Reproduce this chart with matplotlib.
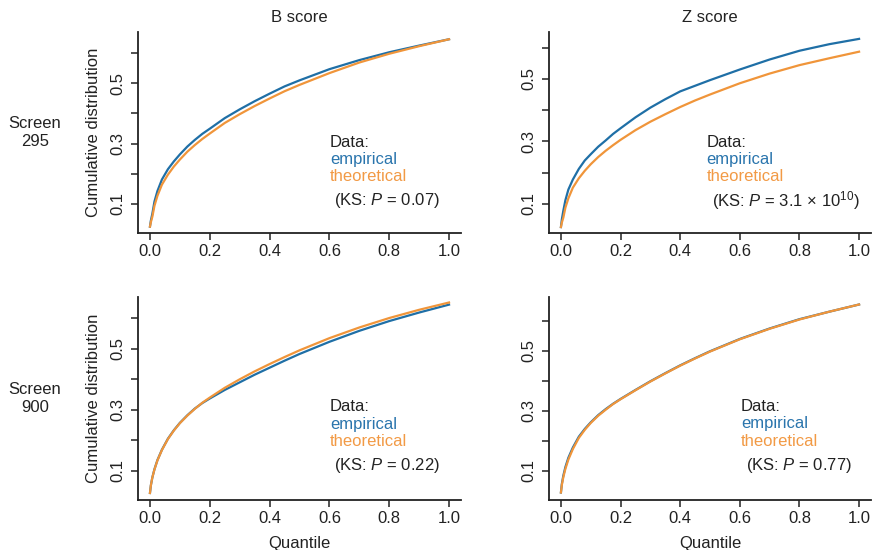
import matplotlib
matplotlib.use("Agg")
import matplotlib.pyplot as plt

plt.rcParams['font.family'] = ['Liberation Sans', 'DejaVu Sans']
plt.rcParams['mathtext.fontset'] = 'custom'
plt.rcParams['mathtext.rm'] = 'Liberation Sans'
plt.rcParams['mathtext.it'] = 'Liberation Sans:italic'

# Quantile grid (x values)
quantile = [0, 0.003, 0.008, 0.015, 0.025, 0.04, 0.06, 0.08, 0.1, 0.125, 0.15, 0.175,
            0.2, 0.25, 0.3, 0.35, 0.4, 0.45, 0.5, 0.6, 0.7, 0.8, 0.9, 1.0]

# Screen 295, B score
b295_emp = [0.025, 0.045, 0.068, 0.108, 0.143, 0.181, 0.215, 0.241, 0.264, 0.290, 0.312, 0.332,
            0.349, 0.384, 0.413, 0.440, 0.465, 0.489, 0.509, 0.546, 0.576, 0.602, 0.624, 0.645]
b295_theo = [0.025, 0.040, 0.058, 0.094, 0.127, 0.164, 0.197, 0.224, 0.247, 0.273, 0.295, 0.315,
             0.333, 0.368, 0.397, 0.424, 0.449, 0.473, 0.494, 0.533, 0.568, 0.597, 0.622, 0.645]
# Screen 295, Z score
z295_emp = [0.026, 0.050, 0.078, 0.112, 0.146, 0.178, 0.212, 0.239, 0.259, 0.283, 0.303, 0.324,
            0.342, 0.377, 0.408, 0.435, 0.460, 0.478, 0.496, 0.530, 0.562, 0.590, 0.611, 0.628]
z295_theo = [0.026, 0.040, 0.056, 0.088, 0.118, 0.152, 0.182, 0.206, 0.227, 0.250, 0.270, 0.288,
             0.305, 0.336, 0.363, 0.387, 0.410, 0.431, 0.450, 0.486, 0.517, 0.544, 0.566, 0.587]
# Screen 900, B score
b900_emp = [0.027, 0.052, 0.078, 0.105, 0.135, 0.169, 0.205, 0.233, 0.257, 0.282, 0.304, 0.322,
            0.337, 0.365, 0.390, 0.415, 0.438, 0.461, 0.483, 0.523, 0.559, 0.591, 0.619, 0.645]
b900_theo = [0.027, 0.052, 0.078, 0.104, 0.134, 0.168, 0.204, 0.232, 0.256, 0.281, 0.303, 0.323,
             0.340, 0.372, 0.400, 0.426, 0.450, 0.473, 0.495, 0.535, 0.570, 0.601, 0.628, 0.652]
# Screen 900, Z score
z900_emp = [0.027, 0.055, 0.083, 0.112, 0.143, 0.177, 0.213, 0.239, 0.261, 0.285, 0.305, 0.323,
            0.339, 0.369, 0.398, 0.425, 0.451, 0.475, 0.498, 0.539, 0.574, 0.605, 0.630, 0.654]
z900_theo = [0.027, 0.052, 0.078, 0.106, 0.137, 0.172, 0.209, 0.236, 0.259, 0.283, 0.303, 0.322,
             0.338, 0.368, 0.397, 0.424, 0.450, 0.474, 0.497, 0.538, 0.573, 0.604, 0.630, 0.654]

col_titles = ["B score", "Z score"]
row_titles = ["Screen\n295", "Screen\n900"]
ks_labels = [["(KS: $P$ = 0.07)", "(KS: $P$ = 3.1 \u00d7 10$^{10}$)"],
             ["(KS: $P$ = 0.22)", "(KS: $P$ = 0.77)"]]
xticks = [0.0, 0.2, 0.4, 0.6, 0.8, 1.0]
xticklabels = ["0.0", "0.2", "0.4", "0.6", "0.8", "1.0"]
yticks = [0.1, 0.2, 0.3, 0.4, 0.5, 0.6]
yticklabels = ["0.1", "", "0.3", "", "0.5", ""]

BLUE = "#1f6fa6"
ORANGE = "#f0953a"
TXT = "#222222"
FS = 12

W, H = 873, 550
fig = plt.figure(figsize=(W / 100, H / 100), dpi=100)

# axes boxes in pixels: (left, top, right, bottom)
boxes = [[(138, 32, 461, 233), (549, 32, 871, 233)],
         [(138, 297, 461, 500), (549, 297, 871, 500)]]
ylims = [[(0.004, 0.669), (0.007, 0.650)],
         [(0.004, 0.670), (0.002, 0.679)]]
series = [[(b295_emp, b295_theo), (z295_emp, z295_theo)],
          [(b900_emp, b900_theo), (z900_emp, z900_theo)]]
# annotation anchor (x of "Data:" left, y of "Data:" center), line step, KS x offset
ann = [[(0.602, 0.302, 0.056, 0.012), (0.489, 0.295, 0.054, 0.017)],
       [(0.602, 0.310, 0.057, 0.012), (0.604, 0.314, 0.058, 0.016)]]

for r in range(2):
    for c in range(2):
        l, t, rt, b = boxes[r][c]
        ax = fig.add_axes([l / W, 1 - b / H, (rt - l) / W, (b - t) / H])
        emp, theo = series[r][c]
        ax.plot(quantile, emp, color=BLUE, lw=1.6, solid_joinstyle='round')
        ax.plot(quantile, theo, color=ORANGE, lw=1.6, solid_joinstyle='round')
        ax.set_xlim(-0.04, 1.04)
        ax.set_ylim(*ylims[r][c])
        ax.spines['top'].set_visible(False)
        ax.spines['right'].set_visible(False)
        for s in ['left', 'bottom']:
            ax.spines[s].set_linewidth(1.3)
            ax.spines[s].set_color(TXT)
        ax.set_xticks(xticks)
        ax.set_xticklabels(xticklabels)
        ax.set_yticks(yticks)
        ax.set_yticklabels(yticklabels, rotation=90, va='center')
        ax.tick_params(axis='both', length=5, width=1.1, color=TXT,
                       labelsize=FS, labelcolor=TXT, pad=3)
        ax.tick_params(axis='y', pad=4)
        x0, y0, step, kdx = ann[r][c]
        ax.text(x0, y0, "Data:", color=TXT, fontsize=FS, va='center', ha='left')
        ax.text(x0, y0 - step, "empirical", color="#2a75ad", fontsize=FS, va='center', ha='left')
        ax.text(x0, y0 - 2 * step, "theoretical", color="#f29a45", fontsize=FS, va='center', ha='left')
        ax.text(x0 + kdx, y0 - 3.4 * step, ks_labels[r][c], color=TXT, fontsize=FS,
                va='center', ha='left')
        if r == 0:
            ax.set_title(col_titles[c], fontsize=FS, color=TXT, pad=7)
        if r == 1:
            ax.set_xlabel("Quantile", fontsize=FS, color=TXT, labelpad=7)
        if c == 0:
            ax.set_ylabel("Cumulative distribution", fontsize=FS, color=TXT, labelpad=7)
            fig.text(35 / W, 1 - ((t + b) / 2) / H, row_titles[r], fontsize=FS,
                     color=TXT, ha='center', va='center', linespacing=1.2)

fig.savefig("out.png", dpi=100)
